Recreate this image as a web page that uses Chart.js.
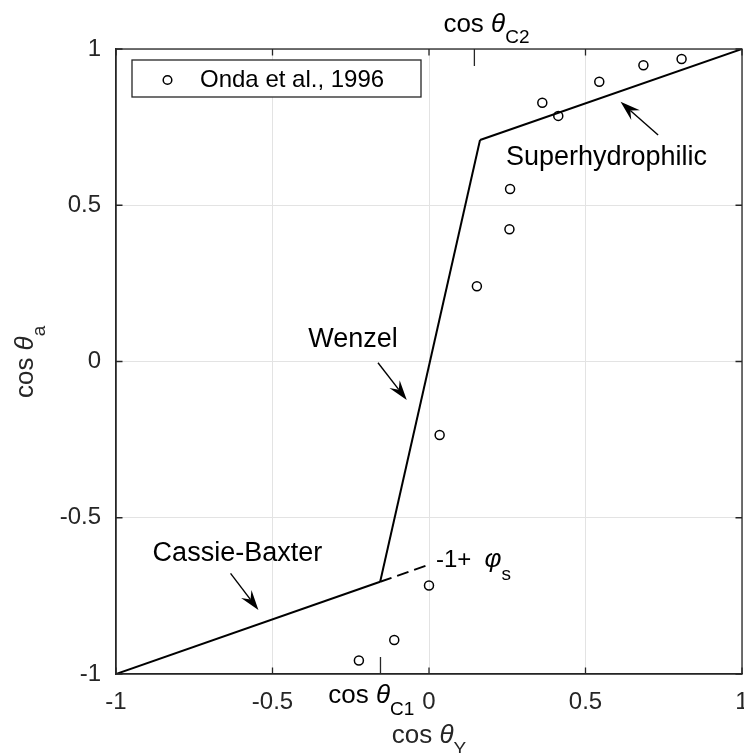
<!DOCTYPE html>
<html><head><meta charset="utf-8">
<script src="https://cdn.jsdelivr.net/npm/chart.js@4.4.1/dist/chart.umd.min.js"></script>
<style>html,body{margin:0;padding:0;background:#fff;overflow:hidden}#wrap{width:744px;height:753px;position:relative}</style>
</head><body><div id="wrap"><canvas id="c" width="744" height="753"></canvas></div>
<script>
// ---- data ----
const xTicks = [-1, -0.5, 0, 0.5, 1];
const yTicks = [-1, -0.5, 0, 0.5, 1];
const ondaLabel = 'Onda et al., 1996';
const ondaX = [-0.224, -0.111, 0.0, 0.034, 0.153, 0.257, 0.259, 0.362, 0.413, 0.544, 0.685, 0.807];
const ondaY = [-0.957, -0.891, -0.717, -0.235, 0.241, 0.423, 0.552, 0.828, 0.786, 0.895, 0.948, 0.968];
const cassieX = [-1, -0.156];      const cassieY = [-1, -0.705];
const cassieExtX = [-0.156, 0];    const cassieExtY = [-0.705, -0.65];
const wenzelX = [-0.156, 0.163];   const wenzelY = [-0.705, 0.709];
const superX = [0.163, 1];         const superY = [0.709, 1];
const cosC1 = -0.155, cosC2 = 0.145;
// annotations: [text, text x, text y, arrow tail x, tail y, head x, head y] in data units
const annSuper = ['Superhydrophilic', 0.246, 0.628, 0.732, 0.725, 0.612, 0.831];
const annWenzel = ['Wenzel', -0.386, 0.047, -0.163, -0.004, -0.071, -0.123];
const annCassie = ['Cassie-Baxter', -0.883, -0.638, -0.634, -0.678, -0.545, -0.795];
const annPhi = [0.022, -0.657];

const pts = (xs, ys) => xs.map((x, i) => ({x, y: ys[i]}));
const lineDs = (xs, ys, dash) => ({data: pts(xs, ys), showLine: true, borderColor: '#000', borderWidth: 2,
  pointRadius: 0, pointHoverRadius: 0, borderDash: dash || [], fill: false, tension: 0});

const SANS = '"Liberation Sans", Arial, Helvetica, sans-serif';
const AX = '#262626';

function rich(ctx, x, y, parts) {
  for (const p of parts) {
    ctx.font = p.font;
    ctx.fillText(p.t, x, y + (p.dy || 0));
    x += ctx.measureText(p.t).width;
  }
}
function cosTheta(sub, main, subSize) {
  return [
    {t: 'cos ', font: main + 'px ' + SANS},
    {t: 'θ', font: 'italic ' + main + 'px ' + SANS},
    {t: sub, font: subSize + 'px ' + SANS, dy: 11.7}
  ];
}
function arrow(ctx, x1, y1, x2, y2) {
  const a = Math.atan2(y2 - y1, x2 - x1), c = Math.cos(a), s = Math.sin(a);
  const L = 20, W = 6.5, B = 13;
  ctx.beginPath(); ctx.moveTo(x1, y1); ctx.lineTo(x2 - B * c, y2 - B * s); ctx.lineWidth = 1.4; ctx.stroke();
  ctx.beginPath();
  ctx.moveTo(x2, y2);
  ctx.lineTo(x2 - L * c - W * s, y2 - L * s + W * c);
  ctx.lineTo(x2 - B * c, y2 - B * s);
  ctx.lineTo(x2 - L * c + W * s, y2 - L * s - W * c);
  ctx.closePath(); ctx.fill();
}

const deco = {
  id: 'deco',
  afterDraw(chart) {
    const ctx = chart.ctx, xs = chart.scales.x, ys = chart.scales.y, ca = chart.chartArea;
    ctx.save();
    ctx.strokeStyle = AX; ctx.lineWidth = 1.3;
    ctx.strokeRect(ca.left, ca.top, ca.right - ca.left, ca.bottom - ca.top);
    ctx.beginPath();
    for (const v of xTicks) {
      const px = xs.getPixelForValue(v);
      ctx.moveTo(px, ca.bottom); ctx.lineTo(px, ca.bottom - 6.5);
      ctx.moveTo(px, ca.top); ctx.lineTo(px, ca.top + 6.5);
    }
    for (const v of yTicks) {
      const py = ys.getPixelForValue(v);
      ctx.moveTo(ca.left, py); ctx.lineTo(ca.left + 6.5, py);
      ctx.moveTo(ca.right, py); ctx.lineTo(ca.right - 6.5, py);
    }
    const p1 = xs.getPixelForValue(cosC1), p2 = xs.getPixelForValue(cosC2);
    ctx.moveTo(p1, ca.bottom); ctx.lineTo(p1, ca.bottom - 17);
    ctx.moveTo(p2, ca.top); ctx.lineTo(p2, ca.top + 17);
    ctx.stroke();

    ctx.fillStyle = '#000'; ctx.textAlign = 'left'; ctx.textBaseline = 'alphabetic';
    rich(ctx, xs.getPixelForValue(-0.322), ca.bottom + 29.3, cosTheta('C1', 26, 19));
    rich(ctx, xs.getPixelForValue(0.046), ca.top - 17.3, cosTheta('C2', 26, 19));

    ctx.fillStyle = AX;
    rich(ctx, xs.getPixelForValue(-0.119), ca.bottom + 69.3, cosTheta('Y', 26, 19));
    ctx.save();
    ctx.translate(ca.left - 82.7, ys.getPixelForValue(-0.117));
    ctx.rotate(-Math.PI / 2);
    rich(ctx, 0, 0, cosTheta('a', 26, 19));
    ctx.restore();

    ctx.fillStyle = '#000'; ctx.strokeStyle = '#000';
    for (const a of [annSuper, annWenzel, annCassie]) {
      ctx.font = '27px ' + SANS;
      ctx.fillText(a[0], xs.getPixelForValue(a[1]), ys.getPixelForValue(a[2]));
      arrow(ctx, xs.getPixelForValue(a[3]), ys.getPixelForValue(a[4]), xs.getPixelForValue(a[5]), ys.getPixelForValue(a[6]));
    }
    rich(ctx, xs.getPixelForValue(annPhi[0]), ys.getPixelForValue(annPhi[1]), [
      {t: '-1+  ', font: '24px ' + SANS},
      {t: 'φ', font: 'italic 26px ' + SANS},
      {t: 's', font: '19px ' + SANS, dy: 13}
    ]);

    const lx = ca.left + 16, ly = ca.top + 11, lw = 289, lh = 37;
    ctx.fillStyle = '#fff'; ctx.fillRect(lx, ly, lw, lh);
    ctx.strokeStyle = AX; ctx.lineWidth = 1.3; ctx.strokeRect(lx, ly, lw, lh);
    ctx.strokeStyle = '#000'; ctx.lineWidth = 1.5;
    ctx.beginPath(); ctx.arc(lx + 35.5, ly + 20, 4.3, 0, Math.PI * 2); ctx.stroke();
    ctx.fillStyle = '#000'; ctx.font = '24px ' + SANS;
    ctx.fillText(ondaLabel, lx + 68, ly + 26.7);
    ctx.restore();
  }
};

new Chart(document.getElementById('c'), {
  type: 'scatter',
  data: {
    datasets: [
      {label: ondaLabel, data: pts(ondaX, ondaY), pointStyle: 'circle', pointRadius: 4.5, pointBorderWidth: 1.5,
       pointBorderColor: '#000', pointBackgroundColor: 'rgba(0,0,0,0)', showLine: false},
      lineDs(cassieX, cassieY),
      lineDs(cassieExtX, cassieExtY, [12, 6]),
      lineDs(wenzelX, wenzelY),
      lineDs(superX, superY)
    ]
  },
  options: {
    responsive: false, animation: false, devicePixelRatio: 1,
    layout: {autoPadding: false, padding: {left: 0, right: 2, top: 49, bottom: 0}},
    plugins: {legend: {display: false}, tooltip: {enabled: false}},
    scales: {
      x: {
        type: 'linear', min: -1, max: 1,
        afterBuildTicks: s => { s.ticks = xTicks.map(v => ({value: v})); },
        afterFit: s => { s.height = 79; s.paddingLeft = 0; s.paddingRight = 0; },
        ticks: {color: AX, font: {family: SANS, size: 24}, padding: 14, maxRotation: 0,
                callback: v => String(v)},
        grid: {color: '#e3e3e3', lineWidth: 1, drawTicks: false},
        border: {display: true, color: AX, width: 1.3}
      },
      y: {
        type: 'linear', min: -1, max: 1,
        afterBuildTicks: s => { s.ticks = yTicks.map(v => ({value: v})); },
        afterFit: s => { s.width = 116; s.paddingTop = 0; s.paddingBottom = 0; },
        ticks: {color: AX, font: {family: SANS, size: 24}, padding: 15, callback: v => String(v)},
        grid: {color: '#e3e3e3', lineWidth: 1, drawTicks: false},
        border: {display: true, color: AX, width: 1.3}
      }
    }
  },
  plugins: [deco]
});
</script></body></html>
